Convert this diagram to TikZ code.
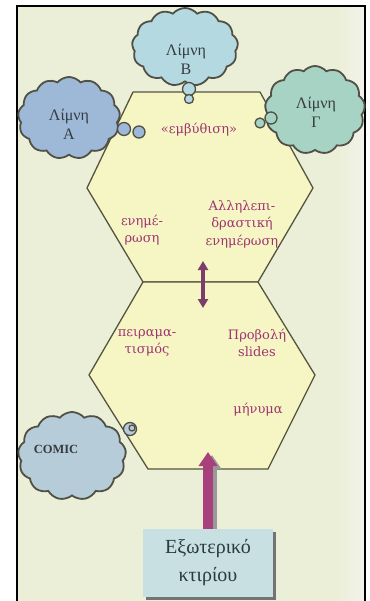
\documentclass[tikz,border=0pt]{standalone}
\usepackage{fontspec}
\setmainfont{Liberation Serif}
\newfontfamily\hexfont{DejaVu Serif}
\usetikzlibrary{shapes.symbols,arrows.meta,shadows}
\definecolor{bg}{HTML}{ECEFD8}
\definecolor{bgr}{HTML}{F3F3EC}
\definecolor{hexfill}{HTML}{F6F5C4}
\definecolor{hexline}{HTML}{55553F}
\definecolor{cloudline}{HTML}{505046}
\definecolor{cloudtext}{HTML}{363C40}
\definecolor{magtext}{HTML}{9E3570}
\definecolor{arrowmag}{HTML}{A8407C}
\definecolor{arrowpur}{HTML}{7C3D68}
\definecolor{cA}{HTML}{9EB9D7}
\definecolor{cB}{HTML}{B5D9E1}
\definecolor{cG}{HTML}{A6D3C3}
\definecolor{cC}{HTML}{B7CCD9}
\definecolor{boxfill}{HTML}{C8E0E2}
\definecolor{boxtext}{HTML}{2A3A42}
\tikzset{
  hexagon/.style={fill=hexfill, draw=hexline, line width=1.3pt, line join=round},
  cloudnode/.style={cloud, cloud puffs=13, cloud puff arc=100, draw=cloudline, line width=1.8pt, inner sep=0pt},
  cloudlabel/.style={text=cloudtext, align=center, font=\fontsize{16}{19}\selectfont, inner sep=0pt},
  bubble/.style={draw=cloudline, line width=1.3pt},
  hextext/.style={text=magtext, align=center, font=\hexfont\fontsize{13}{17.5}\selectfont, inner sep=0pt},
}
\begin{document}
\begin{tikzpicture}[x=1pt,y=-1pt]
\useasboundingbox (0,0) rectangle (369,601);
\fill[white] (0,0) rectangle (369,601);
\fill[bg] (17,6) rectangle (365,601);
\shade[left color=bg, right color=bgr] (338,6) rectangle (365,601);
\draw[line width=2pt] (16.5,602) -- (16.5,6) -- (364.5,6) -- (364.5,602);

% hexagons
\filldraw[hexagon] (133,92) -- (260,92) -- (313,188) -- (258,282) -- (143,282) -- (87,188) -- cycle;
\filldraw[hexagon] (143,282) -- (258,282) -- (315,375) -- (268,469) -- (148,469) -- (89,375) -- cycle;

% clouds
\node[cloudnode, fill=cA, minimum width=102pt, minimum height=82pt] (lakeA) at (69,118) {};
\node[cloudlabel] (lakeAt) at (69,124) {Λίμνη\\Α};
\draw[bubble, fill=cA] (124,129) circle (6.5);
\draw[bubble, fill=cA] (139,132) circle (6);

\node[cloudnode, fill=cB, minimum width=106pt, minimum height=78pt] (lakeB) at (185,47) {};
\node[cloudlabel] (lakeBt) at (186,59) {Λίμνη\\Β};
\draw[bubble, fill=cB] (189,89) circle (6.5);
\draw[bubble, fill=cB] (189,99) circle (4.5);

\node[cloudnode, fill=cG, minimum width=100pt, minimum height=88pt] (lakeG) at (315,110) {};
\node[cloudlabel] (lakeGt) at (316,112) {Λίμνη\\Γ};
\draw[bubble, fill=cG] (271,118) circle (6);
\draw[bubble, fill=cG] (260,123) circle (5);

\node[cloudnode, fill=cC, minimum width=108pt, minimum height=88pt] (comic) at (72,456) {};
\node[text=cloudtext, font=\bfseries\fontsize{12.5}{14}\selectfont] (comict) at (56,449) {COMIC};
\draw[bubble, fill=cC] (130,429) circle (6.5);
\draw[bubble] (132,428) circle (3);

% hexagon texts
\node[hextext] (emb) at (199,130) {«εμβύθιση»};
\node[hextext] (enim) at (142,230) {ενημέ-\\ρωση};
\node[hextext] (allil) at (242,224) {Αλληλεπι-\\δραστική\\ενημέρωση};
\node[hextext] (peir) at (147,343) {πειραμα-\\τισμός};
\node[hextext] (prov) at (257,343) {Προβολή\\slides};
\node[hextext] (min) at (258,410) {μήνυμα};

% double arrow
\coordinate (dtop) at (203,261);
\coordinate (dbot) at (203,308);
\draw[arrowpur, line width=4pt, {Triangle[width=10pt,length=9pt]}-{Triangle[width=10pt,length=9pt]}] (dbot) -- (dtop);

% box
\node[fill=boxfill, minimum width=130pt, minimum height=68pt, text=boxtext, align=center,
      font=\fontsize{20}{28}\selectfont,
      drop shadow={shadow xshift=2.5pt, shadow yshift=-2.5pt, fill=black!55, opacity=1}] (ext) at (208,563) {Εξωτερικό\\κτιρίου};

% big arrow
\coordinate (tip) at (208,452);
\draw[black!40, line width=10pt, -{Triangle[width=18pt,length=14pt]}] ([xshift=4pt]ext.north) -- ([xshift=4pt,yshift=-3pt]tip);
\draw[arrowmag, line width=10pt, -{Triangle[width=18pt,length=14pt]}] (ext.north) -- (tip);
\end{tikzpicture}
\end{document}
